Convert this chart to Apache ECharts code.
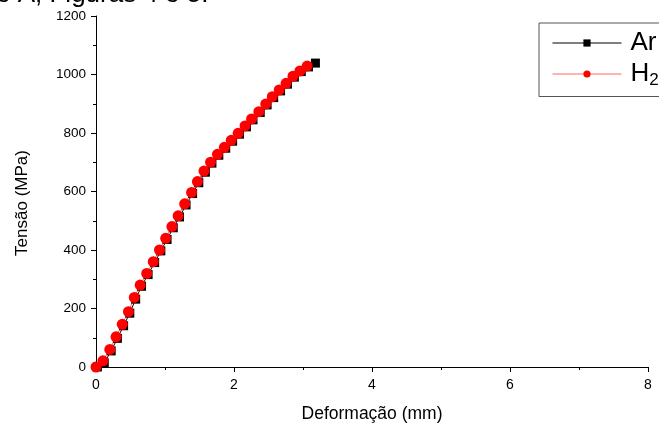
<!DOCTYPE html>
<html>
<head>
<meta charset="utf-8">
<script src="https://cdn.jsdelivr.net/npm/echarts@6/dist/echarts.min.js"></script>
<style>
html,body{margin:0;padding:0;background:#fff;}
#c{width:659px;height:423px;}
</style>
</head>
<body>
<div id="c"></div>
<script>
const seriesNames = ['Ar', 'H2'];
const strainAr = [0.02, 0.12, 0.22, 0.31, 0.40, 0.49, 0.575, 0.66, 0.755, 0.85, 0.94, 1.03, 1.12, 1.21, 1.305, 1.40, 1.49, 1.585, 1.68, 1.78, 1.88, 1.98, 2.08, 2.18, 2.275, 2.38, 2.48, 2.575, 2.675, 2.775, 2.875, 2.975, 3.08, 3.18];
const stressAr = [0, 14, 55, 98, 141, 184, 232, 276, 316, 357, 397, 436, 476, 513, 554, 593, 630, 666, 697, 724, 748, 772, 796, 821, 845, 870, 896, 921, 944, 967, 991, 1010, 1026, 1039];
const strainH2 = [0, 0.10, 0.20, 0.29, 0.38, 0.47, 0.555, 0.64, 0.735, 0.83, 0.92, 1.01, 1.10, 1.19, 1.285, 1.385, 1.47, 1.565, 1.66, 1.76, 1.86, 1.96, 2.06, 2.16, 2.255, 2.36, 2.46, 2.555, 2.655, 2.755, 2.855, 2.955, 3.06];
const stressH2 = [0, 21, 60, 103, 146, 189, 238, 280, 320, 360, 400, 440, 480, 517, 558, 597, 634, 670, 700, 727, 751, 775, 799, 824, 848, 873, 899, 924, 947, 970, 994, 1012, 1029];
const xTicks = [0, 2, 4, 6, 8];
const yTicks = [0, 200, 400, 600, 800, 1000, 1200];
const topText = 'e A, Figuras 4 e 5.';
const xTitle = 'Deformação (mm)';
const yTitle = 'Tensão (MPa)';

const zip = (a, b) => a.map((v, i) => [v, b[i]]);
const font = '"Liberation Sans", Arial, sans-serif';

const chart = echarts.init(document.getElementById('c'), null, {renderer: 'canvas'});
chart.setOption({
  backgroundColor: '#ffffff',
  animation: false,
  graphic: [
    {type: 'text', x: -4, y: 8,
     style: {text: topText, font: '26px ' + font, fill: '#000', verticalAlign: 'bottom'}},
    {type: 'text', x: 22, y: 203, rotation: Math.PI / 2,
     style: {text: yTitle, font: '17px ' + font, fill: '#000', align: 'center', verticalAlign: 'middle'}}
  ],
  grid: {left: 96, right: 11, top: 16, bottom: 56, containLabel: false, outerBoundsMode: 'none'},
  legend: {
    data: seriesNames,
    orient: 'vertical',
    left: 539, top: 23,
    padding: [7, 14, 8, 13],
    itemGap: 5,
    itemWidth: 69, itemHeight: 9,
    borderColor: '#555', borderWidth: 1,
    backgroundColor: '#fff',
    lineStyle: {width: 1},
    formatter: n => n === 'H2' ? 'H{s|2}' : n,
    textStyle: {
      fontFamily: font, fontSize: 26, color: '#000', padding: [0, 0, 0, 4],
      rich: {s: {fontFamily: font, fontSize: 17, color: '#000', verticalAlign: 'bottom', padding: [12, 0, 0, 0]}}
    }
  },
  xAxis: {
    type: 'value', min: xTicks[0], max: xTicks[xTicks.length - 1], interval: 2,
    name: xTitle, nameLocation: 'middle', nameGap: 38,
    nameTextStyle: {fontFamily: font, fontSize: 17.5, color: '#000'},
    axisLine: {show: true, lineStyle: {color: '#000', width: 1}},
    axisTick: {show: true, inside: false, length: 5, lineStyle: {color: '#000'}},
    minorTick: {show: true, splitNumber: 2, length: 3, lineStyle: {color: '#000'}},
    axisLabel: {fontFamily: font, fontSize: 14, color: '#000', margin: 11},
    splitLine: {show: false}
  },
  yAxis: {
    type: 'value', min: yTicks[0], max: yTicks[yTicks.length - 1], interval: 200,
    axisLine: {show: true, lineStyle: {color: '#000', width: 1}},
    axisTick: {show: true, inside: false, length: 5, lineStyle: {color: '#000'}},
    minorTick: {show: true, splitNumber: 2, length: 3, lineStyle: {color: '#000'}},
    axisLabel: {fontFamily: font, fontSize: 13.5, color: '#000', margin: 10, formatter: v => String(v)},
    splitLine: {show: false}
  },
  series: [
    {
      name: 'Ar', type: 'line', data: zip(strainAr, stressAr),
      symbol: 'rect', symbolSize: 9, showAllSymbol: true,
      lineStyle: {color: '#000', width: 1},
      itemStyle: {color: '#000'}
    },
    {
      name: 'H2', type: 'line', data: zip(strainH2, stressH2),
      symbol: 'circle', symbolSize: 11, showAllSymbol: true,
      lineStyle: {color: '#ff6666', width: 1},
      itemStyle: {color: '#ff0000'}
    }
  ]
});
</script>
</body>
</html>
